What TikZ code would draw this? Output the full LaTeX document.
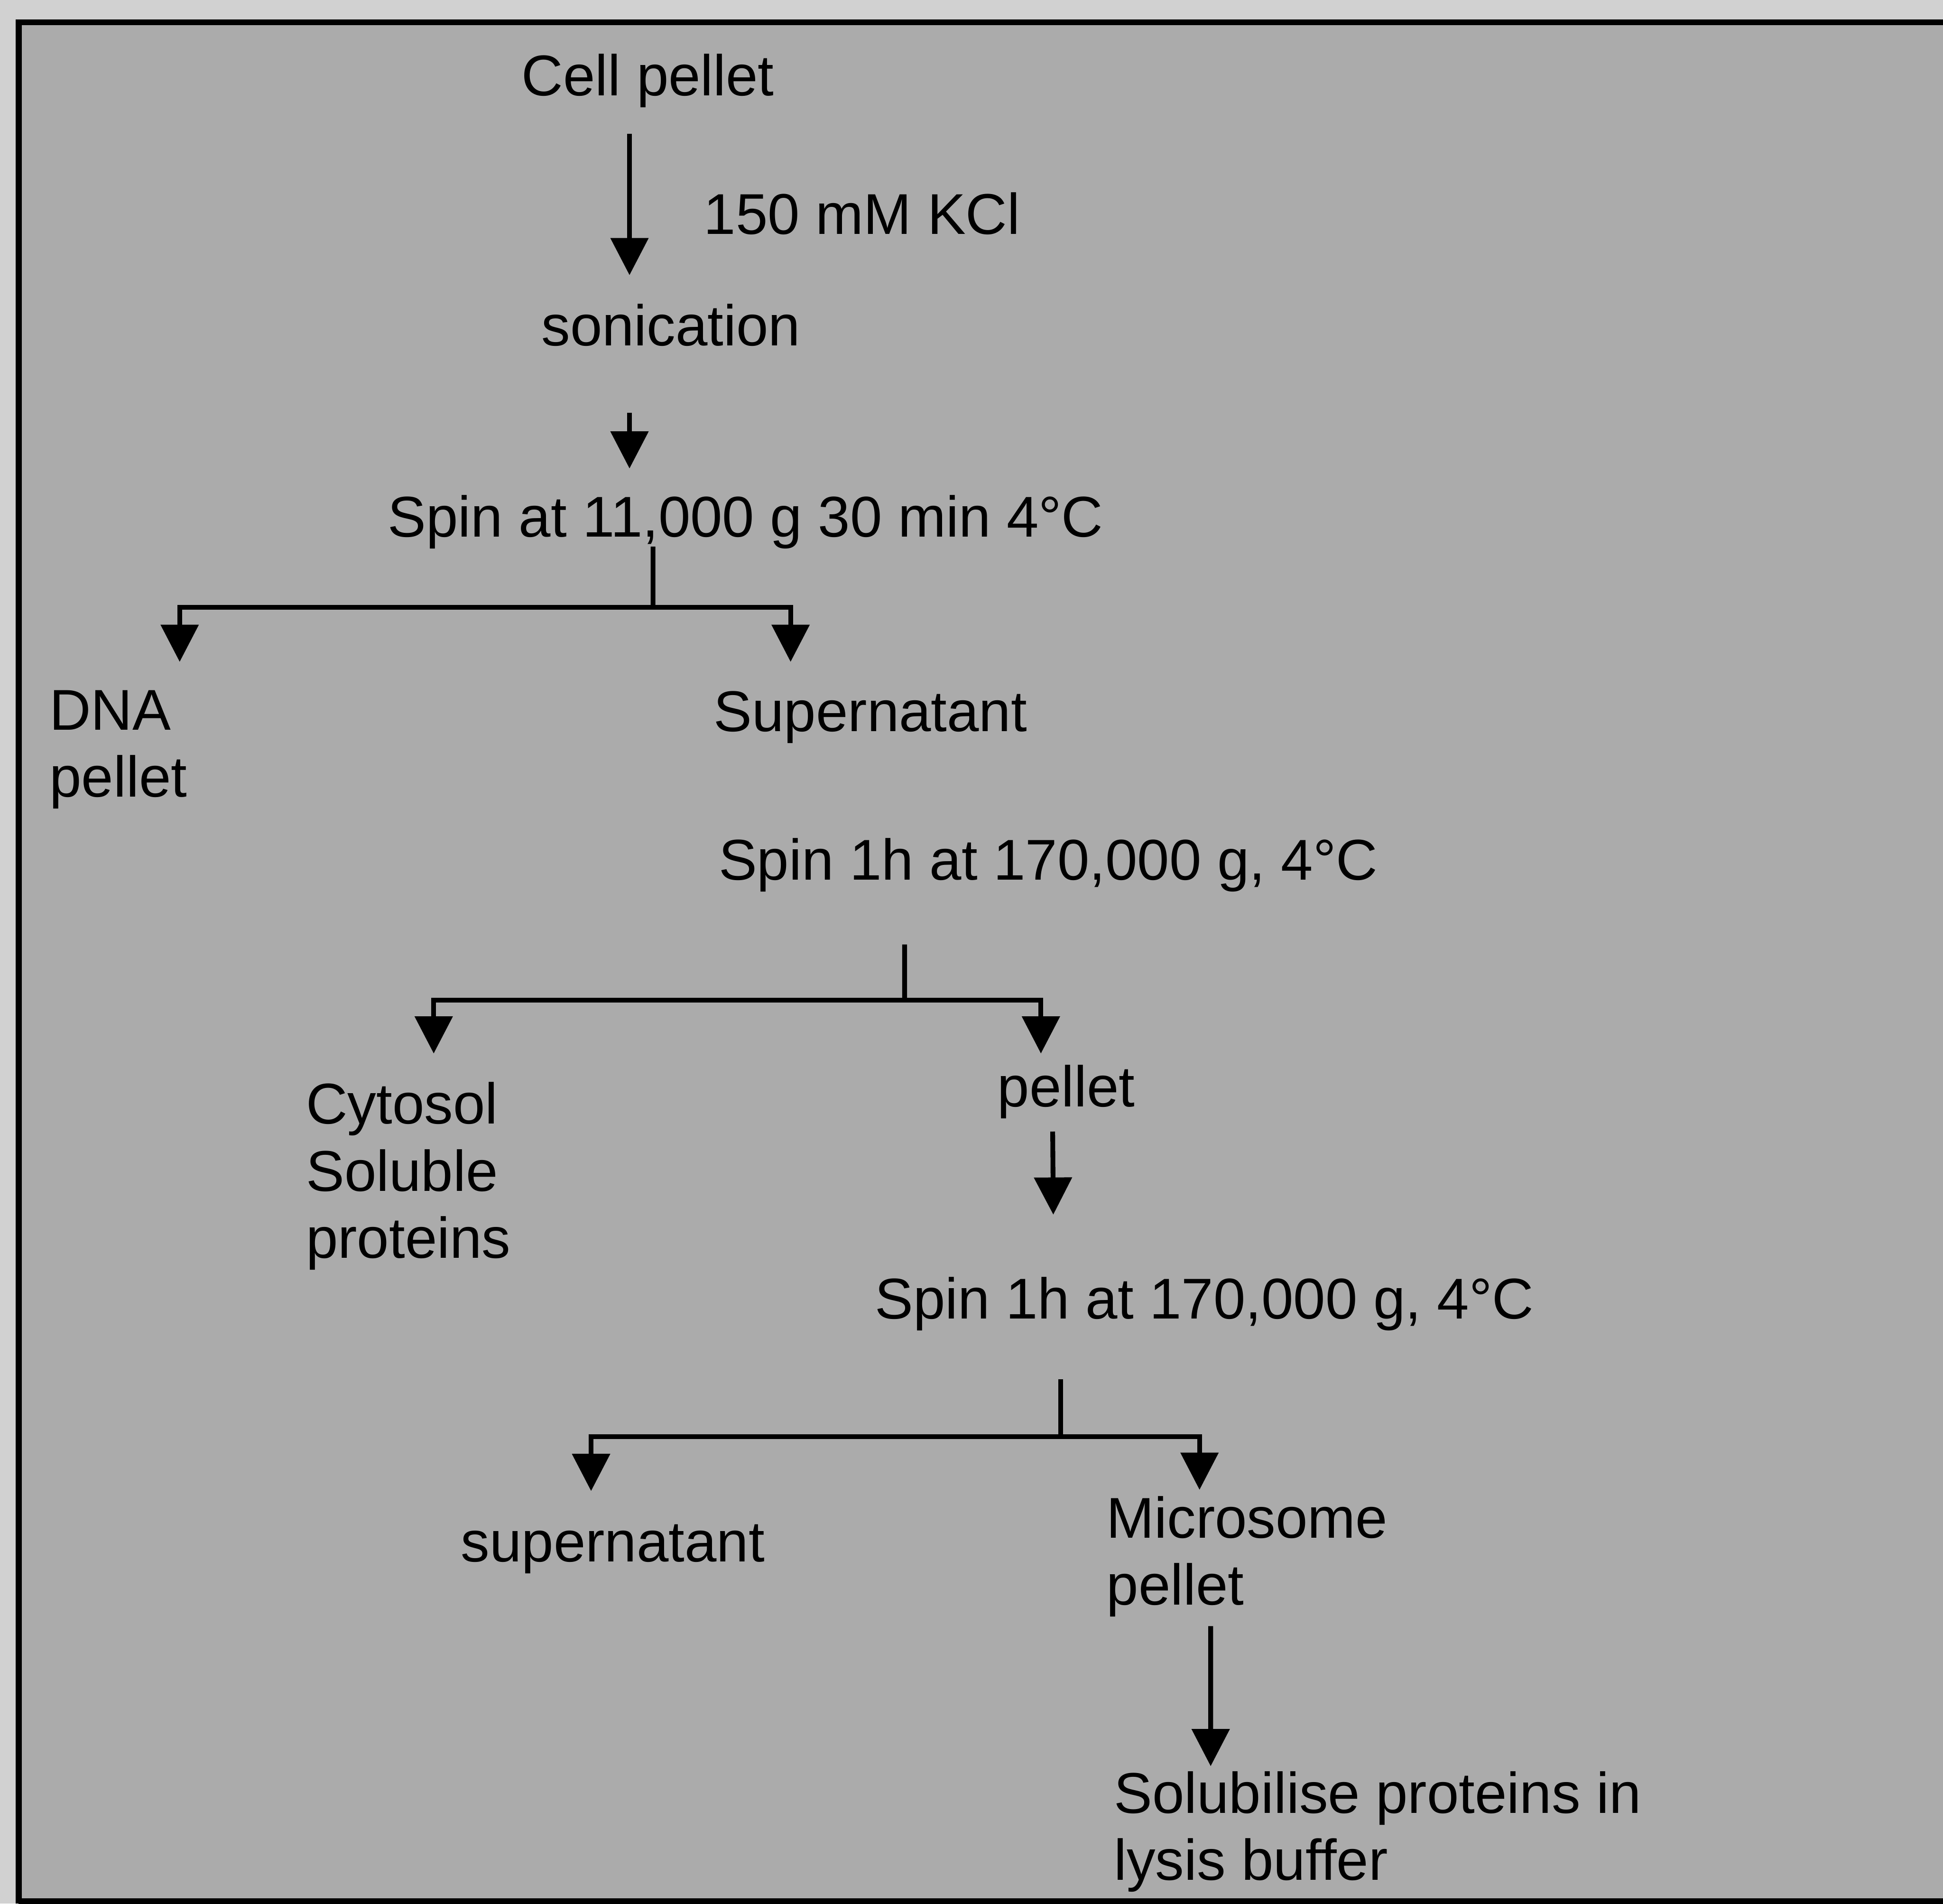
\documentclass[tikz,border=0pt]{standalone}
\usepackage{fontspec}
\setmainfont{Liberation Sans}
\usetikzlibrary{arrows.meta}
\definecolor{paper}{gray}{0.82}
\definecolor{panel}{gray}{0.67}
\tikzset{
  lbl/.style={inner sep=0pt,outer sep=0pt,anchor=base west,align=left,
    font=\fontsize{13.2pt}{15.4pt}\selectfont},
  link/.style={line width=1.1pt},
  flow/.style={-{Triangle[length=3mm,width=3mm]},line width=1.1pt},
  frame/.style={line width=1.4pt},
}

\begin{document}
\begin{tikzpicture}
  \useasboundingbox (0,0) rectangle (15.68,-15.36);
  % panel
  \fill[paper] (0,0) rectangle (15.68,-15.36);
  \fill[panel] (0.15,-0.18) rectangle (15.68,-15.36);
  \draw[frame] (15.68,-0.18) -- (0.15,-0.18) -- (0.15,-15.36);
  \draw[frame] (0.15,-15.34) -- (15.68,-15.34);
  % first spin
  \node[lbl] (cell) at (4.21,-0.77) {Cell pellet};
  \node[lbl] (kcl) at (5.68,-1.89) {150 mM KCl};
  \node[lbl] (soni) at (4.37,-2.79) {sonication};
  \node[lbl] (spinA) at (3.13,-4.33) {Spin at 11,000 g 30 min 4°C};
  \draw[flow] ([shift={(0.87,-0.31)}]cell.base west) -- ([shift={(0.71,0.57)}]soni.base west);
  \draw[flow] ([shift={(0.71,-0.54)}]soni.base west) -- ([shift={(1.95,0.55)}]spinA.base west);
  \node[lbl] (dna) at (0.40,-6.43) {DNA\\pellet};
  \node[lbl] (sup) at (5.76,-5.90) {Supernatant};
  \coordinate (jA) at (5.27,-4.90);
  \draw[link] ([shift={(2.14,-0.08)}]spinA.base west) -- (jA);
  \draw[flow] (jA) -| ([shift={(1.05,1.09)}]dna.base west);
  \draw[flow] (jA) -| ([shift={(0.62,0.56)}]sup.base west);
  % second spin
  \node[lbl] (spinB) at (5.80,-7.10) {Spin 1h at 170,000 g, 4°C};
  \node[lbl] (cyto) at (2.47,-10.15) {Cytosol\\Soluble\\proteins};
  \node[lbl] (pel) at (8.05,-8.93) {pellet};
  \coordinate (jB) at (7.30,-8.07);
  \draw[link] ([shift={(1.50,-0.52)}]spinB.base west) -- (jB);
  \draw[flow] (jB) -| ([shift={(1.03,1.65)}]cyto.base west);
  \draw[flow] (jB) -| ([shift={(0.35,0.43)}]pel.base west);
  % third spin
  \node[lbl] (spinC) at (7.06,-10.64) {Spin 1h at 170,000 g, 4°C};
  \draw[flow] ([shift={(0.445,-0.20)}]pel.base west) -- ([shift={(1.44,0.84)}]spinC.base west);
  \node[lbl] (supn) at (3.72,-12.60) {supernatant};
  \node[lbl] (micro) at (8.93,-12.95) {Microsome\\pellet};
  \coordinate (jC) at (8.56,-11.59);
  \draw[link] ([shift={(1.50,-0.49)}]spinC.base west) -- (jC);
  \draw[flow] (jC) -| ([shift={(1.05,0.57)}]supn.base west);
  \draw[flow] (jC) -| ([shift={(0.75,0.93)}]micro.base west);
  % solubilise
  \node[lbl] (solu) at (8.99,-15.17) {Solubilise proteins in\\lysis buffer};
  \draw[flow] ([shift={(0.84,-0.17)}]micro.base west) -- ([shift={(0.78,0.92)}]solu.base west);
\end{tikzpicture}
\end{document}
